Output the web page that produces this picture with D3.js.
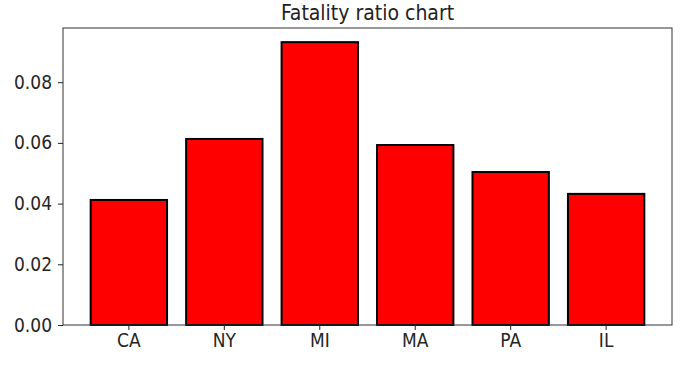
<!DOCTYPE html>
<html>
<head>
<meta charset="utf-8">
<script src="https://cdn.jsdelivr.net/npm/d3@7"></script>
<style>
  body { margin: 0; background: #fff; }
  svg { display: block; }
  svg text { font-family: "DejaVu Sans Condensed", "DejaVu Sans", sans-serif; }
  .tick text { font-size: 19px; fill: #262626; }
  .tick line { stroke: #222; }
  .titulo { font-size: 21px; fill: #222; }
</style>
</head>
<body>
<svg id="grafico"></svg>
<script>
// dados
const estados = ['CA', 'NY', 'MI', 'MA', 'PA', 'IL'];
const razoes = [0.0412, 0.0613, 0.0932, 0.0593, 0.0504, 0.0432];
const ticksY = [0, 0.02, 0.04, 0.06, 0.08];

const largura = 685, altura = 376;
const margem = { esquerda: 63, direita: 13, superior: 28, inferior: 51 };
const larguraPlotagem = largura - margem.esquerda - margem.direita;
const alturaPlotagem = altura - margem.superior - margem.inferior;

const svg = d3.select('#grafico').attr('width', largura).attr('height', altura);
const plotagem = svg.append('g')
    .attr('transform', `translate(${margem.esquerda}, ${margem.superior})`);

// escalas (margem de 5% como o matplotlib)
const x = d3.scaleBand().domain(estados).range([0, larguraPlotagem])
    .paddingInner(0.2).paddingOuter(0.29);
const y = d3.scaleLinear().domain([0, d3.max(razoes) * 1.05]).range([alturaPlotagem, 0]);

// barras
plotagem.selectAll('.barra')
  .data(estados.map((e, i) => ({ chave: e, valor: razoes[i] })))
  .enter().append('rect')
    .classed('barra', true)
    .attr('x', d => x(d.chave))
    .attr('y', d => y(d.valor))
    .attr('width', x.bandwidth())
    .attr('height', d => alturaPlotagem - y(d.valor))
    .attr('fill', '#ff0000')
    .attr('stroke', '#000')
    .attr('stroke-width', 2);

// eixos
const eixoX = plotagem.append('g')
    .attr('transform', `translate(0, ${alturaPlotagem})`)
    .call(d3.axisBottom(x).tickSize(5).tickPadding(4));
const eixoY = plotagem.append('g')
    .call(d3.axisLeft(y).tickValues(ticksY).tickFormat(d3.format('.2f')).tickSize(5).tickPadding(6));
[eixoX, eixoY].forEach(e => e.select('.domain').remove());

// moldura
plotagem.append('rect')
    .attr('width', larguraPlotagem)
    .attr('height', alturaPlotagem)
    .attr('fill', 'none')
    .attr('stroke', '#333')
    .attr('stroke-width', 1);

// título
svg.append('text')
    .classed('titulo', true)
    .attr('x', margem.esquerda + larguraPlotagem / 2)
    .attr('y', 20)
    .attr('text-anchor', 'middle')
    .text('Fatality ratio chart');
</script>
</body>
</html>
